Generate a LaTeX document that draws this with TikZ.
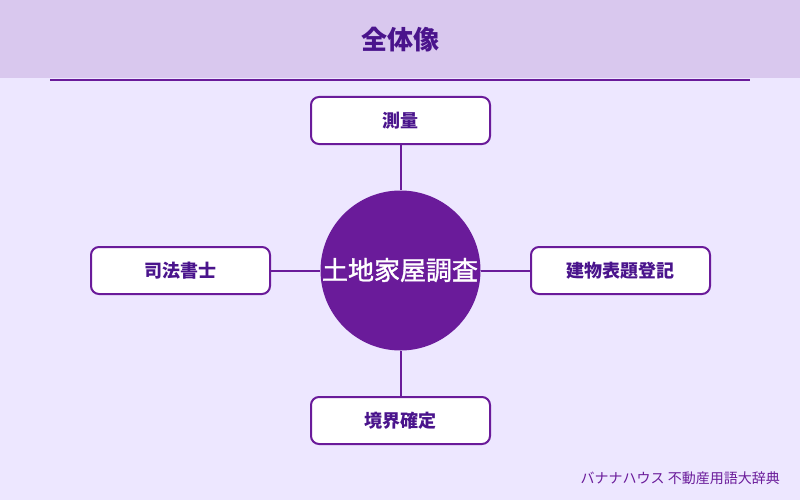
\documentclass[tikz,border=0pt]{standalone}
\usepackage{fontspec}
\setmainfont{Noto Sans CJK JP}
\newfontfamily\circfont{Noto Sans CJK JP}[FakeBold=1.5]
\definecolor{bgc}{HTML}{EDE7FF}
\definecolor{hdr}{HTML}{D9C8EE}
\definecolor{pur}{HTML}{6A1B9A}
\definecolor{dpur}{HTML}{4A148C}
\begin{document}
\begin{tikzpicture}[x=1pt,y=-1pt,
  itembox/.style={draw=pur,line width=2pt,fill=white,rounded corners=8pt,minimum width=179pt,minimum height=47pt,inner sep=0pt,text=dpur,font=\fontsize{18}{18}\selectfont\bfseries},
  link/.style={draw=pur,line width=2pt}]
\fill[bgc] (0,0) rectangle (800,500);
\useasboundingbox (0,0) rectangle (800,500);
\fill[hdr] (0,0) rectangle (800,78);
\draw[pur,line width=2pt] (50,80) -- (750,80);
\node[text=dpur,font=\fontsize{26}{26}\selectfont\bfseries] (title) at (400,40) {全体像};
\node[circle,fill=pur,minimum size=160pt,inner sep=0pt] (c) at (400.5,270.5) {};
\node[itembox] (t) at (400.5,120.5) {測量};
\node[itembox] (l) at (180.5,270.5) {司法書士};
\node[itembox] (r) at (620.5,270.5) {建物表題登記};
\node[itembox] (b) at (400.5,420.5) {境界確定};
\draw[link] (t) -- (c);
\draw[link] (l) -- (c);
\draw[link] (r) -- (c);
\draw[link] (b) -- (c);
\node[text=white,font=\fontsize{26}{26}\circfont,inner sep=0pt] (ct) at (400,270) {土地家屋調査};
\node[anchor=east,text=pur,font=\fontsize{14}{14}\selectfont,inner sep=0pt] (ft) at (780,478) {バナナハウス 不動産用語大辞典};
\end{tikzpicture}
\end{document}
